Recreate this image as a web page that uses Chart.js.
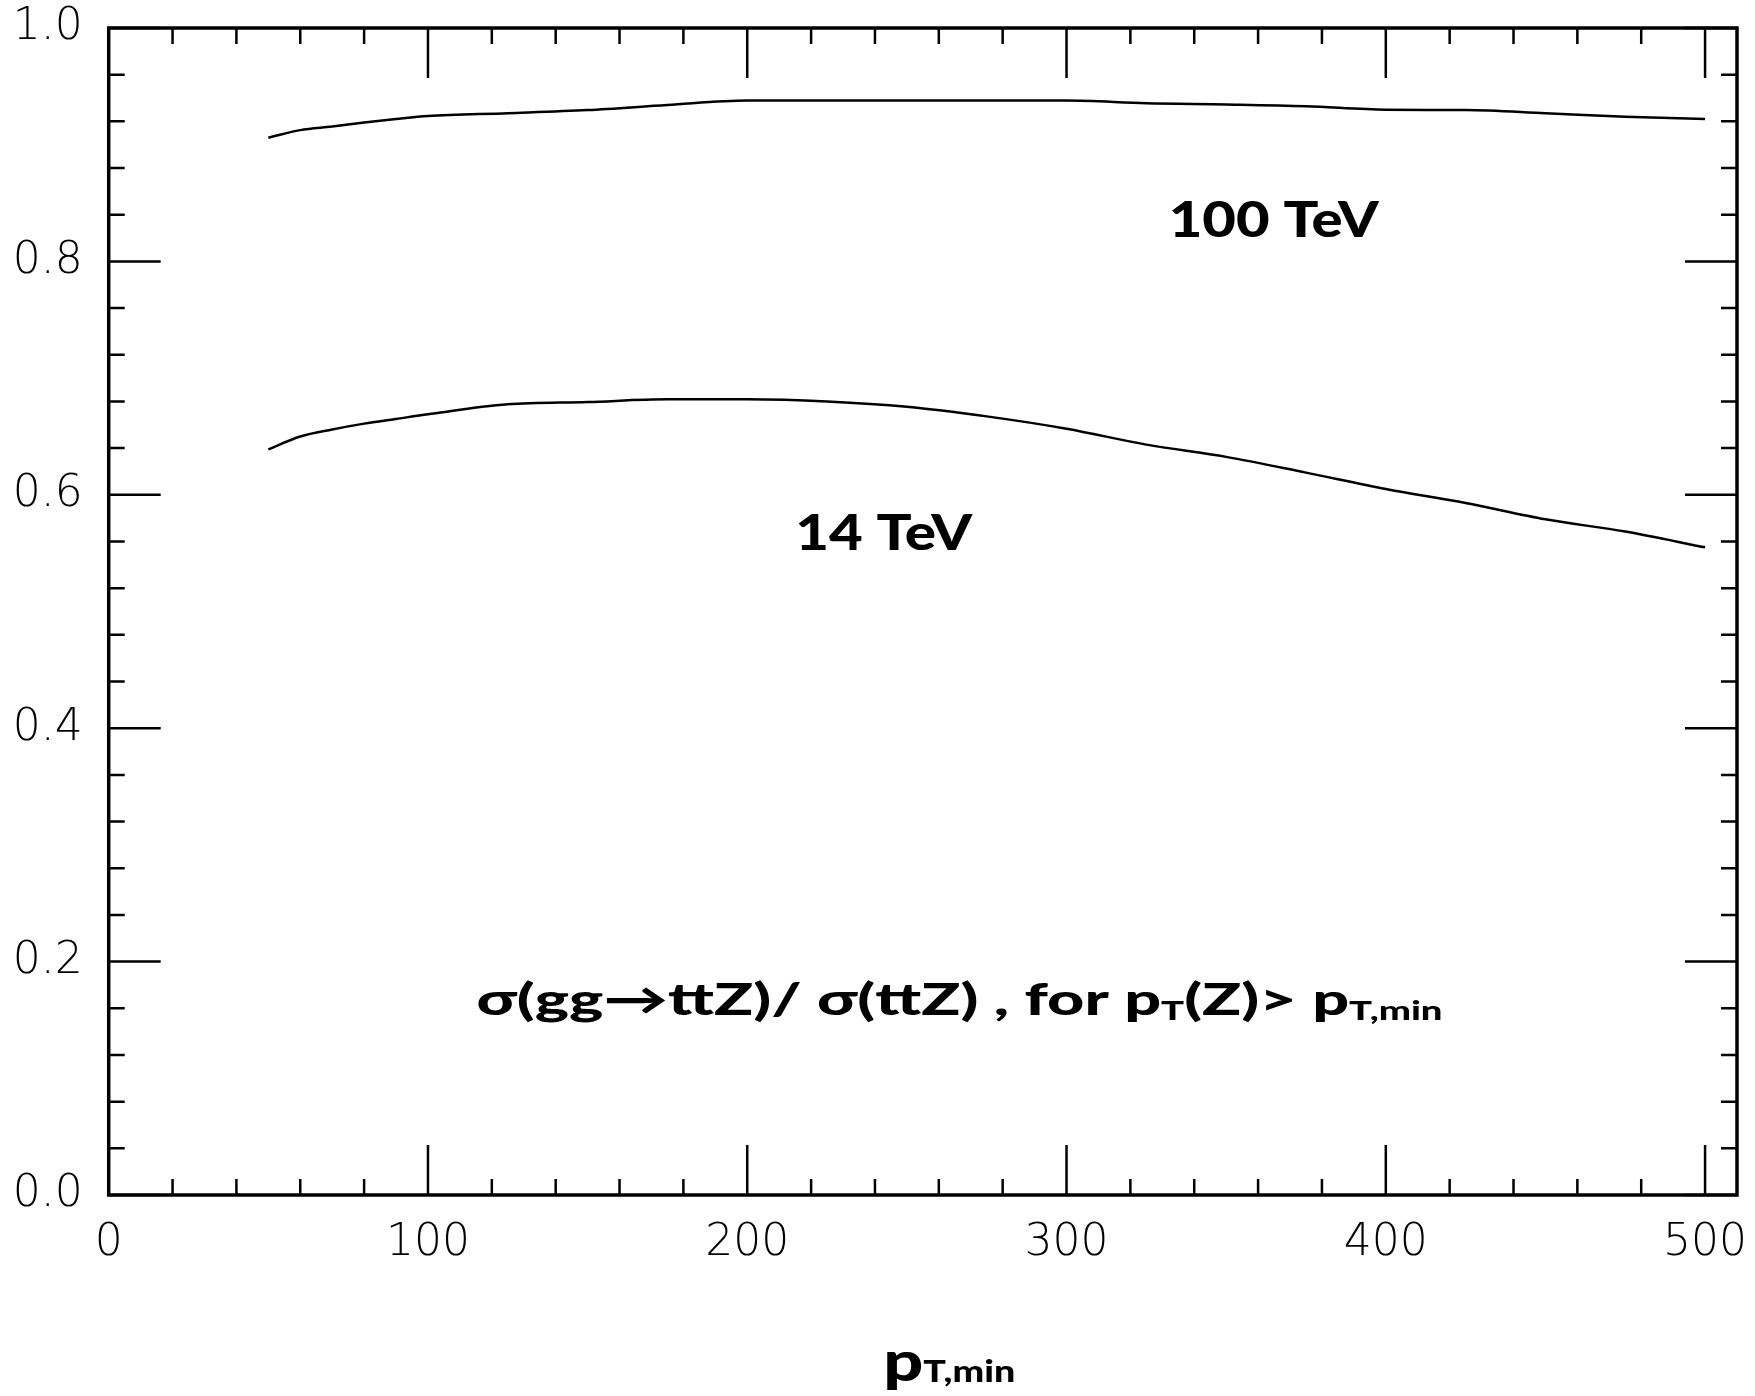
<!DOCTYPE html>
<html>
<head>
<meta charset="utf-8">
<script src="https://cdn.jsdelivr.net/npm/chart.js@4.4.1/dist/chart.umd.min.js"></script>
<style>
  html, body { margin: 0; padding: 0; background: #fff; }
  #grafico-razao { display: block; }
</style>
</head>
<body>
<canvas id="grafico-razao" width="1755" height="1396"></canvas>
<script>
// valores
const ptMin = [50, 60, 70, 80, 90, 100, 125, 150, 175, 200, 225, 250, 275, 300, 325, 350, 375, 400, 425, 450, 475, 500];
const razao100TeV = [0.906, 0.9125, 0.9155, 0.919, 0.922, 0.9246, 0.927, 0.9297, 0.934, 0.9378, 0.9378, 0.9378, 0.9378, 0.9378, 0.9355, 0.9345, 0.933, 0.930, 0.9297, 0.927, 0.924, 0.922];
const razao14TeV = [0.639, 0.650, 0.656, 0.661, 0.665, 0.669, 0.6775, 0.6795, 0.6818, 0.6818, 0.680, 0.6755, 0.6672, 0.6566, 0.643, 0.6325, 0.619, 0.605, 0.593, 0.579, 0.5685, 0.555];
const ticksX = [0, 100, 200, 300, 400, 500];
const ticksY = [0.0, 0.2, 0.4, 0.6, 0.8, 1.0];

const fonteTexto = 'Lato, "Open Sans", sans-serif';

function pontos(valores) {
  return ptMin.map((pt, i) => ({ x: pt, y: valores[i] }));
}

// escreve pedacos de texto (com subscritos) a partir de um ponto, ajustando a largura
function escreveTexto(ctx, partes, xEsq, base, larguraAlvo) {
  let larg = 0;
  partes.forEach((p) => {
    ctx.font = `900 ${p.px}px ${fonteTexto}`;
    larg += ctx.measureText(p.t).width;
  });
  const sx = larguraAlvo ? larguraAlvo / larg : 1;
  ctx.save();
  ctx.translate(xEsq, base);
  ctx.scale(sx, 1);
  ctx.fillStyle = '#000';
  ctx.textBaseline = 'alphabetic';
  ctx.textAlign = 'left';
  let x = 0;
  partes.forEach((p) => {
    ctx.font = `900 ${p.px}px ${fonteTexto}`;
    ctx.fillText(p.t, x, p.dy || 0);
    x += ctx.measureText(p.t).width;
  });
  ctx.restore();
}

const moldura = {
  id: 'moldura',
  afterDatasetsDraw(chart) {
    const { ctx, chartArea, scales } = chart;
    const { left, right, top, bottom } = chartArea;
    ctx.save();
    ctx.strokeStyle = '#000';
    ctx.lineCap = 'butt';

    ctx.lineWidth = 2.5;
    ctx.beginPath();
    for (let v = 0; v <= 500; v += 20) {
      const px = scales.x.getPixelForValue(v);
      const tam = v % 100 === 0 ? 50 : 16;
      ctx.moveTo(px, bottom);
      ctx.lineTo(px, bottom - tam);
      ctx.moveTo(px, top);
      ctx.lineTo(px, top + tam);
    }
    for (let i = 0; i <= 25; i++) {
      const v = i * 0.04;
      const py = scales.y.getPixelForValue(v);
      const tam = i % 5 === 0 ? 52 : 16;
      ctx.moveTo(left, py);
      ctx.lineTo(left + tam, py);
      ctx.moveTo(right, py);
      ctx.lineTo(right - tam, py);
    }
    ctx.stroke();

    ctx.lineWidth = 3.5;
    ctx.strokeRect(left, top, right - left, bottom - top);
    ctx.restore();
  },
};

const anotacoes = {
  id: 'anotacoes',
  afterDraw(chart) {
    const { ctx, scales, chartArea } = chart;
    const x = scales.x;
    const y = scales.y;

    escreveTexto(ctx, [{ t: '100 TeV', px: 50 }], x.getPixelForValue(332), y.getPixelForValue(0.821), 210);
    escreveTexto(ctx, [{ t: '14 TeV', px: 50 }], x.getPixelForValue(215), y.getPixelForValue(0.5527), 177);

    escreveTexto(
      ctx,
      [
        { t: 'σ(gg→ttZ)/ σ(ttZ) , for p', px: 44 },
        { t: 'T', px: 26, dy: 5 },
        { t: '(Z)> p', px: 44 },
        { t: 'T,min', px: 26, dy: 5 },
      ],
      x.getPixelForValue(115.2),
      y.getPixelForValue(0.154),
      966
    );

    escreveTexto(
      ctx,
      [
        { t: 'p', px: 56 },
        { t: 'T,min', px: 30, dy: 1 },
      ],
      x.getPixelForValue(242.6),
      chartArea.bottom + 186,
      132
    );
  },
};

const config = {
  type: 'line',
  data: {
    datasets: [
      {
        label: '100 TeV',
        data: pontos(razao100TeV),
        borderColor: '#000',
        borderWidth: 2.5,
        pointRadius: 0,
        fill: false,
        cubicInterpolationMode: 'monotone',
      },
      {
        label: '14 TeV',
        data: pontos(razao14TeV),
        borderColor: '#000',
        borderWidth: 2.5,
        pointRadius: 0,
        fill: false,
        cubicInterpolationMode: 'monotone',
      },
    ],
  },
  options: {
    responsive: false,
    animation: false,
    events: [],
    layout: {
      padding: { left: 0, top: 28, right: 18, bottom: 0 },
    },
    scales: {
      x: {
        type: 'linear',
        min: 0,
        max: 510,
        grid: { display: false },
        border: { display: false },
        afterBuildTicks: (scale) => {
          scale.ticks = ticksX.map((v) => ({ value: v }));
        },
        afterFit: (scale) => {
          scale.height = 201;
          scale.paddingLeft = 0;
          scale.paddingRight = 0;
        },
        ticks: {
          color: '#000',
          padding: 14,
          maxRotation: 0,
          autoSkip: false,
          font: { family: 'DejaVu Sans', size: 44, weight: 200 },
          callback: (v) => String(v),
        },
      },
      y: {
        type: 'linear',
        min: 0,
        max: 1,
        grid: { display: false },
        border: { display: false },
        afterBuildTicks: (scale) => {
          scale.ticks = ticksY.map((v) => ({ value: v }));
        },
        afterFit: (scale) => {
          scale.width = 108.7;
          scale.paddingTop = 0;
          scale.paddingBottom = 0;
        },
        ticks: {
          color: '#000',
          padding: 18,
          autoSkip: false,
          font: { family: 'DejaVu Sans', size: 44, weight: 200 },
          callback: (v) => v.toFixed(1),
        },
      },
    },
    plugins: {
      legend: { display: false },
      tooltip: { enabled: false },
    },
  },
  plugins: [moldura, anotacoes],
};

let grafico = new Chart(document.getElementById('grafico-razao').getContext('2d'), config);
</script>
</body>
</html>
